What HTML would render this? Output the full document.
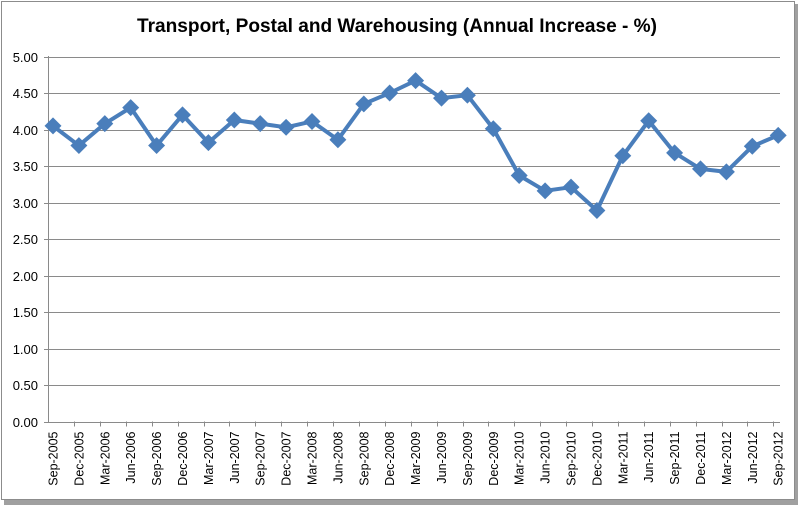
<!DOCTYPE html>
<html><head><meta charset="utf-8"><style>
html,body{margin:0;padding:0;background:#fff;}
svg{display:block;font-family:"Liberation Sans",sans-serif;}
</style></head><body>
<svg width="800" height="508" viewBox="0 0 800 508" xmlns="http://www.w3.org/2000/svg">
<rect x="0" y="0" width="800" height="508" fill="#fff"/>
<rect x="4" y="4" width="794" height="501" fill="#a0a0a0"/>
<rect x="1.5" y="1.5" width="793" height="498" fill="#fff" stroke="#8c8c8c" stroke-width="1"/>
<text x="397" y="32" text-anchor="middle" font-size="19" font-weight="bold" fill="#000" textLength="520" lengthAdjust="spacingAndGlyphs">Transport, Postal and Warehousing (Annual Increase - %)</text>
<g id="grid" stroke="#8a8a8a" stroke-width="1"></g>
<g id="ylab" font-size="13" fill="#000" text-anchor="end"></g>
<g id="xlab" font-size="12.5" fill="#000"></g>
<polyline id="line" fill="none" stroke="#4a7ebb" stroke-width="4" stroke-linejoin="round"/>
<g id="mk" fill="#4a7ebb"></g>
</svg>
<script>
var ns="http://www.w3.org/2000/svg";
function el(t,a,p){var e=document.createElementNS(ns,t);for(var k in a)e.setAttribute(k,a[k]);p.appendChild(e);return e;}
var L=48.5,R=780,Y0=421.5,S=73;
var g=document.getElementById('grid'),yl=document.getElementById('ylab'),xl=document.getElementById('xlab');
for(var i=0;i<=10;i++){var y=Math.round(Y0-i*0.5*S)+0.5;
 el('line',{x1:44,x2:R,y1:y,y2:y,stroke:'#8a8a8a'},g);
 var t=el('text',{x:38,y:y+4.5},yl);t.textContent=(i*0.5).toFixed(2);}
el('line',{x1:L,x2:L,y1:56,y2:Y0+1},g);
var labs=[];var m=['Sep','Dec','Mar','Jun'];
for(var i=0;i<29;i++){var yr=2005+Math.floor((i+2)/4);labs.push(m[i%4]+'-'+yr);}
var v=[4.05,3.78,4.08,4.30,3.78,4.20,3.82,4.13,4.08,4.03,4.11,3.86,4.35,4.50,4.67,4.43,4.47,4.01,3.37,3.16,3.21,2.89,3.64,4.12,3.68,3.46,3.42,3.77,3.92];
var pts=[];
for(var i=0;i<29;i++){var x=53+i*25.9;var y=Y0-v[i]*S;pts.push(x+','+y);
 var tx=Math.round(x+21)+0.5; if(i<28) el('line',{x1:tx,x2:tx,y1:Y0,y2:Y0+5},g);
 var t=el('text',{x:0,y:0,transform:'translate('+(x+4.5)+','+(Y0+10)+') rotate(-90)','text-anchor':'end'},xl);t.textContent=labs[i];
 el('rect',{x:x-6,y:y-6,width:12,height:12,transform:'rotate(45 '+x+' '+y+')'},document.getElementById('mk'));}
document.getElementById('line').setAttribute('points',pts.join(' '));
</script>
</body></html>
